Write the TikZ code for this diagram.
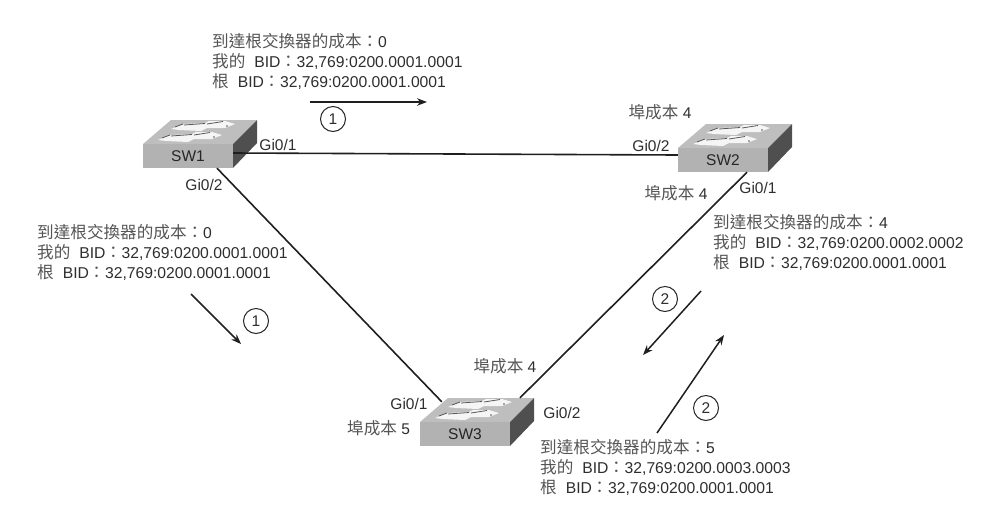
\documentclass[tikz,border=0pt]{standalone}
\usepackage{fontspec}
\setmainfont{Liberation Sans}
\newfontfamily\cjk{Noto Sans CJK TC}
\usetikzlibrary{arrows.meta,calc}
\definecolor{inkc}{HTML}{2E2E2E}
\definecolor{cjkc}{HTML}{555555}
\definecolor{frontc}{HTML}{B2B2B2}
\definecolor{topc}{HTML}{BEBEBE}
\definecolor{sidec}{HTML}{4F4F4F}
\newcommand{\zh}[1]{{\cjk\fontsize{16.6}{20}\selectfont\color{cjkc}#1}}
\newcommand{\infoblock}[6]{%
\node[infotext] (#1) at (#2,#3) {\zh{到達根交換器的成本：}#4\\
\zh{我的}\hspace{9pt}BID\hspace{-0.5pt}\zh{：}#5\\
\zh{根}\hspace{9pt}BID\hspace{-0.5pt}\zh{：}#6};}
\newcommand{\switchbox}[4]{%
\begin{scope}[shift={(#3,#4)}]
\fill[topc] (0,0) -- (28,-24) -- (114,-24) -- (90,0) -- cycle;
\fill[sidec] (90,0) -- (114,-24) -- (114,-1) -- (90,24) -- cycle;
\foreach \dx/\dy in {0/0,-13/11}{
\begin{scope}[shift={(\dx,\dy)}]
\fill[white!92!gray] (28,-15) -- (40,-20) -- (62,-21) -- (66,-23) -- (82,-23) -- (92,-20) -- (82,-16) -- (64,-16) -- (58,-13) -- (36,-14) -- cycle;
\draw[inkc!80,line width=0.8] (32,-17) -- (40,-20) (41,-19) -- (62,-20.5) (64,-20) -- (80,-22.5);
\fill[inkc!80] (84,-18) circle (0.8);
\end{scope}}
\node[swfront] (#1) at (45,12) {#2};
\end{scope}}
\tikzset{
 infotext/.style={anchor=north west,align=left,inner sep=0pt,font=\fontsize{15.7}{20}\selectfont,text=inkc},
 portlabel/.style={inner sep=0pt,font=\fontsize{15.5}{18}\selectfont,text=inkc},
 swfront/.style={fill=frontc,minimum width=90pt,minimum height=24pt,inner sep=0pt,font=\fontsize{15.5}{18}\selectfont,text=black!85},
 linkline/.style={line width=1.6pt,draw=black!88},
 flowarrow/.style={line width=1.5pt,draw=black!88,-{Stealth[length=10pt,width=7.5pt]}},
 stepmark/.style={circle,draw=black!85,line width=1pt,minimum size=25pt,inner sep=0pt,font=\fontsize{15.5}{18}\selectfont,text=inkc},
}
\begin{document}
\begin{tikzpicture}[x=1pt,y=-1pt]
\useasboundingbox (0,0) rectangle (1006,512);
\switchbox{sw1}{SW1}{143}{144}
\switchbox{sw2}{SW2}{678}{148}
\switchbox{sw3}{SW3}{420}{422}
\draw[linkline] ($(sw1.east)+(0,-3)$) -- ($(sw2.west)+(0,-5)$);
\draw[linkline] ($(sw1.south)+(29,0)$) -- ($(sw3.north west)+(22,-20)$);
\draw[linkline] ($(sw2.south)+(24,0)$) -- ($(sw3.north)+(55,-24)$);
\node[portlabel] (l1) at (278,145) {Gi0/1};
\node[portlabel] (l2) at (204,185) {Gi0/2};
\node[portlabel] (l3) at (651,146) {Gi0/2};
\node[portlabel] (l4) at (758,188) {Gi0/1};
\node[portlabel] (l5) at (409,404) {Gi0/1};
\node[portlabel] (l6) at (562,413) {Gi0/2};
\node[portlabel] (c1) at (660,112) {\zh{埠成本} 4};
\node[portlabel] (c2) at (676,193) {\zh{埠成本} 4};
\node[portlabel] (c3) at (505,366) {\zh{埠成本} 4};
\node[portlabel] (c4) at (347,428) [anchor=west] {\zh{埠成本} 5};
\infoblock{b1}{212}{33.5}{0}{32,769:0200.0001.0001}{32,769:0200.0001.0001}
\infoblock{b2}{37}{224.5}{0}{32,769:0200.0001.0001}{32,769:0200.0001.0001}
\infoblock{b3}{713}{214.5}{4}{32,769:0200.0002.0002}{32,769:0200.0001.0001}
\infoblock{b4}{540}{439.5}{5}{32,769:0200.0003.0003}{32,769:0200.0001.0001}
\coordinate (a1s) at (310,102); \coordinate (a1e) at (427,102);
\coordinate (a2s) at (191,294); \coordinate (a2e) at (241,344);
\coordinate (a3s) at (701,291); \coordinate (a3e) at (643,355);
\coordinate (a4s) at (657,433); \coordinate (a4e) at (724,335);
\draw[flowarrow] (a1s) -- (a1e);
\draw[flowarrow] (a2s) -- (a2e);
\draw[flowarrow] (a3s) -- (a3e);
\draw[flowarrow] (a4s) -- (a4e);
\node[stepmark] (m1) at (333,119) {1};
\node[stepmark] (m2) at (256,321) {1};
\node[stepmark] (m3) at (665,299) {2};
\node[stepmark] (m4) at (706,408) {2};
\end{tikzpicture}
\end{document}
